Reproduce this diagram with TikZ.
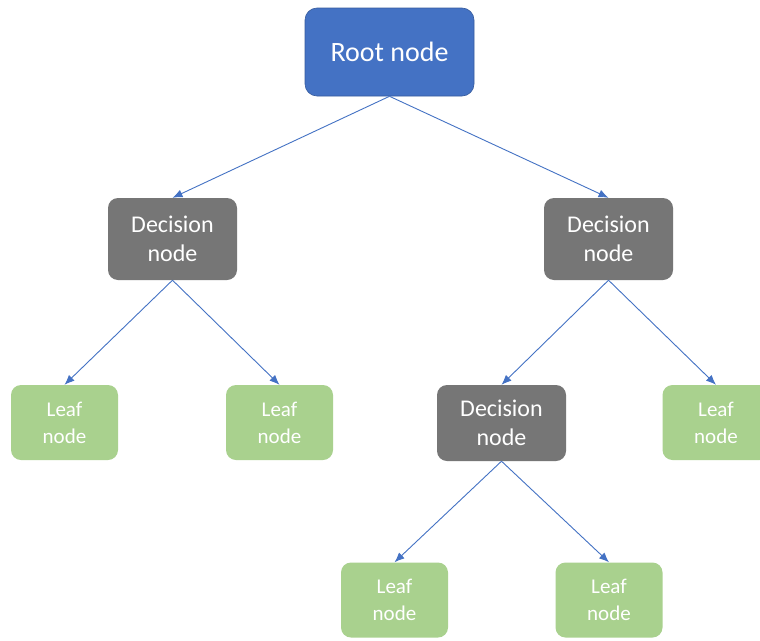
\documentclass[tikz,border=0pt]{standalone}
\usepackage{fontspec}
\setmainfont{Carlito}
\usetikzlibrary{arrows.meta}
\definecolor{rootblue}{HTML}{4472C4}
\definecolor{decgray}{HTML}{767676}
\definecolor{leafgreen}{HTML}{A9D18E}
\tikzset{
  rootbox/.style={fill=rootblue, draw=rootblue!80!black, line width=0.6pt, rounded corners=12pt, minimum width=169pt, minimum height=88pt, text=white, font=\fontsize{28}{34}\selectfont, align=center, inner sep=0pt},
  decisionbox/.style={fill=decgray, rounded corners=10pt, minimum width=129pt, minimum height=82pt, text=white, font=\fontsize{24}{29}\selectfont, align=center, inner sep=0pt},
  leafbox/.style={fill=leafgreen, rounded corners=10pt, minimum width=107pt, minimum height=75pt, text=white, font=\fontsize{21}{27}\selectfont, align=center, inner sep=0pt},
  branch/.style={draw=rootblue, line width=0.9pt, -{Latex[length=10pt,width=8pt]}}
}
\begin{document}
\begin{tikzpicture}[x=1pt,y=-1pt]
		%%%%% START %%%%%
		\clip (0,0) rectangle (760,640);
		\fill[white] (0,0) rectangle (760,640);
		
		\node[rootbox] (root) at (389.5, 52) {Root node};
		
		\node[decisionbox] (decL) at (172.5, 239) {Decision\\node};
		\node[decisionbox] (decR) at (608.5, 239) {Decision\\node};
		
		\node[leafbox] (leafA) at (64.5, 422.5) {Leaf\\node};
		\node[leafbox] (leafB) at (279.5, 422.5) {Leaf\\node};
		\node[decisionbox, minimum height=76pt] (decM) at (501.5, 423) {Decision\\node};
		\node[leafbox] (leafC) at (716, 422.5) {Leaf\\node};
		
		\node[leafbox] (leafD) at (394.5, 600) {Leaf\\node};
		\node[leafbox] (leafE) at (609, 600) {Leaf\\node};
		
		\draw[branch] (root.south) -- (decL.north);
		\draw[branch] (root.south) -- (decR.north);
		\draw[branch] (decL.south) -- (leafA.north);
		\draw[branch] (decL.south) -- (leafB.north);
		\draw[branch] (decR.south) -- (decM.north);
		\draw[branch] (decR.south) -- (leafC.north);
		\draw[branch] (decM.south) -- (leafD.north);
		\draw[branch] (decM.south) -- (leafE.north);
		
		%%%%% END %%%%%
\end{tikzpicture}
\end{document}
